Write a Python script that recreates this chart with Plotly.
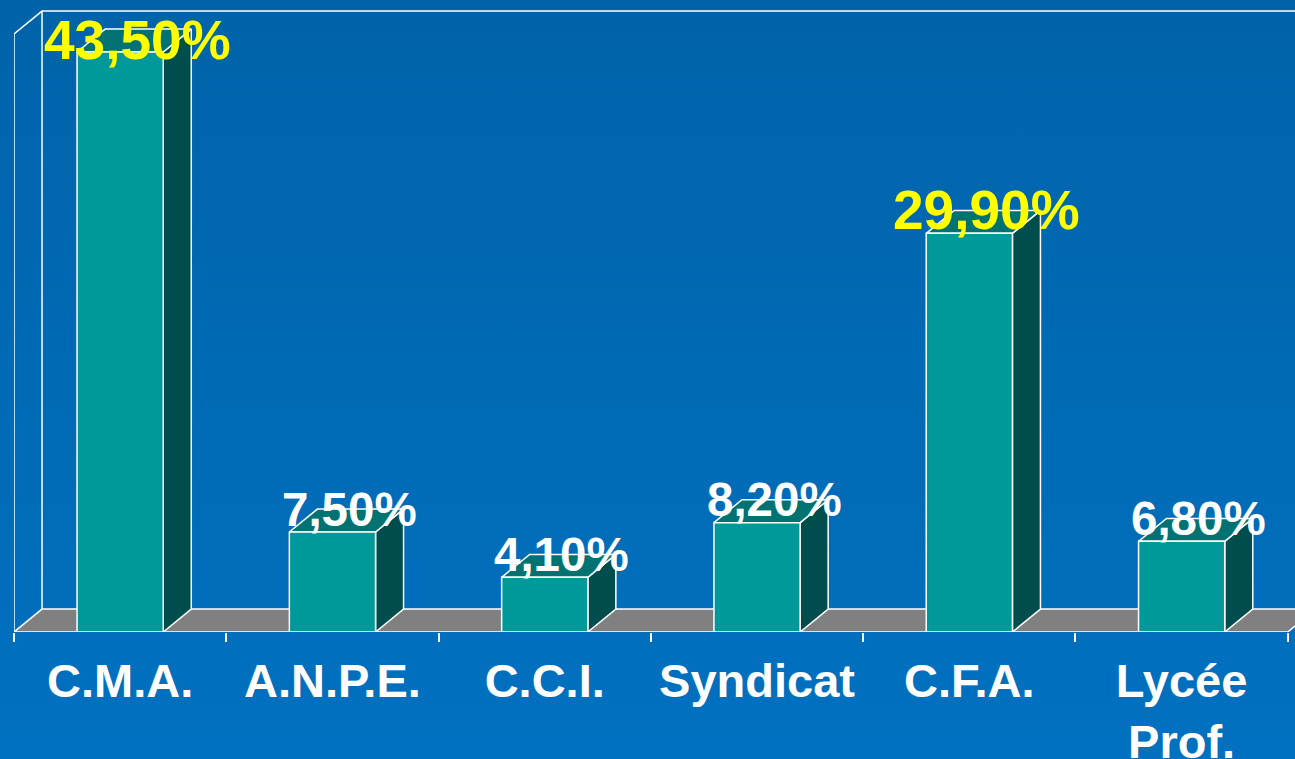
import base64
import plotly.graph_objects as go

# ---- data ----
categories = ["C.M.A.", "A.N.P.E.", "C.C.I.", "Syndicat", "C.F.A.", "Lycée<br>Prof."]
values = [43.5, 7.5, 4.1, 8.2, 29.9, 6.8]
value_labels = ["43,50%", "7,50%", "4,10%", "8,20%", "29,90%", "6,80%"]

# ---- style / geometry constants ----
W, H = 1295, 759
ML, MB = 14, 127
Y_MAX = 47.4
X_RANGE = [-0.5, 5.534]
WALL_TOP = 44.85
DX, DY = 0.132, 1.72          # pseudo-3D depth offset (data units)
HALF = 0.203                  # half bar width
FRONT = "#009999"
SIDE = "#004D4D"
TOP = "#007272"
FLOOR = "#808080"
EDGE = dict(color="white", width=1.5)
FONT = "Liberation Sans, Arial, sans-serif"

fig = go.Figure()

n = len(categories)
x0, x1 = -0.5, n - 0.5

# floor
fig.add_trace(go.Scatter(
    x=[x0, x1, x1 + DX, x0 + DX, x0], y=[0, 0, DY, DY, 0],
    mode="lines", fill="toself", fillcolor=FLOOR, line=EDGE, hoverinfo="skip"))
# walls (outline only)
fig.add_trace(go.Scatter(
    x=[x0, x0, x0 + DX, x1 + 2, None, x0 + DX, x0 + DX],
    y=[0, WALL_TOP, WALL_TOP + DY, WALL_TOP + DY, None, WALL_TOP + DY, DY],
    mode="lines", line=EDGE, hoverinfo="skip"))

annotations = []
for i, (v, lab) in enumerate(zip(values, value_labels)):
    l, r = i - HALF, i + HALF
    # side face
    fig.add_trace(go.Scatter(
        x=[r, r + DX, r + DX, r, r], y=[0, DY, v + DY, v, 0],
        mode="lines", fill="toself", fillcolor=SIDE, line=EDGE, hoverinfo="skip"))
    # top face
    fig.add_trace(go.Scatter(
        x=[l, r, r + DX, l + DX, l], y=[v, v, v + DY, v + DY, v],
        mode="lines", fill="toself", fillcolor=TOP, line=EDGE, hoverinfo="skip"))
    # front face
    fig.add_trace(go.Scatter(
        x=[l, r, r, l, l], y=[0, 0, v, v, 0],
        mode="lines", fill="toself", fillcolor=FRONT, line=EDGE, hoverinfo="skip"))
    big = v > 20
    annotations.append(dict(
        x=i + 0.08, y=min(v + DY, 44.4), xref="x", yref="y",
        text=f"<b>{lab}</b>", showarrow=False,
        xanchor="center", yanchor="middle",
        font=dict(family=FONT, size=55 if big else 47.5,
                  color="#FFFF00" if big else "white")))

grad_svg = (
    "<svg xmlns='http://www.w3.org/2000/svg' width='100' height='100' preserveAspectRatio='none'>"
    "<defs><linearGradient id='g' x1='0' y1='0' x2='0' y2='1'>"
    "<stop offset='0' stop-color='#0063A9'/><stop offset='1' stop-color='#0071C0'/>"
    "</linearGradient></defs><rect width='100' height='100' fill='url(#g)'/></svg>")
grad_src = "data:image/svg+xml;base64," + base64.b64encode(grad_svg.encode()).decode()
pw, ph = W - ML, H - MB

fig.update_layout(
    width=W, height=H,
    margin=dict(l=ML, r=0, t=0, b=MB, pad=0, autoexpand=False),
    paper_bgcolor="#006AB4", plot_bgcolor="rgba(0,0,0,0)",
    showlegend=False,
    annotations=annotations,
    images=[dict(source=grad_src, xref="paper", yref="paper",
                 x=-ML / pw, y=1, sizex=W / pw, sizey=H / ph,
                 xanchor="left", yanchor="top", sizing="stretch", layer="below")],
    xaxis=dict(range=X_RANGE, showgrid=False, zeroline=False, showline=False,
               automargin=False,
               tickmode="array", tickvals=list(range(n)), ticktext=[f"<b>{c}</b>" for c in categories],
               ticks="", tickfont=dict(family=FONT, size=47, color="white"),
               ticklabelstandoff=17,
               minor=dict(tickmode="array", tickvals=[k - 0.5 for k in range(n + 1)],
                          ticks="outside", ticklen=9, tickwidth=2, tickcolor="white",
                          showgrid=False),
               fixedrange=True),
    yaxis=dict(range=[0, Y_MAX], visible=False, fixedrange=True, automargin=False),
)

fig.write_html("out.html", config={"displayModeBar": False},
               post_script="document.body.style.margin='0';")
